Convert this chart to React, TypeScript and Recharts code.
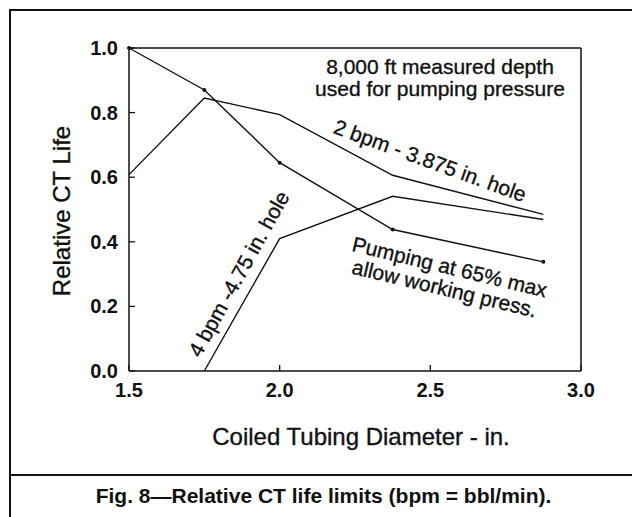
import React from 'react'
import { LineChart, Line, XAxis, YAxis, ReferenceLine } from 'recharts'

// coiled tubing diameters (in.) where the curves were computed
const diameters = [1.5, 1.75, 2.0, 2.375, 2.875]
const pumping65 = [1.0, 0.87, 0.645, 0.438, 0.338]
const bpm2Hole3875 = [0.608, 0.845, 0.794, 0.606, 0.485]
const bpm4Diameters = [1.75, 2.0, 2.375, 2.875]
const bpm4Hole475 = [0.0, 0.41, 0.541, 0.469]

const xTicks = [1.5, 2.0, 2.5, 3.0]
const yTicks = [0, 0.2, 0.4, 0.6, 0.8, 1.0]

const FONT = '"Liberation Sans", Arial, Helvetica, sans-serif'
const INK = '#111'

const pumpingData = diameters.map((d, i) => ({ d, v: pumping65[i] }))
const bpm2Data = diameters.map((d, i) => ({ d, v: bpm2Hole3875[i] }))
const bpm4Data = bpm4Diameters.map((d, i) => ({ d, v: bpm4Hole475[i] }))

const TICK_MARGIN = 11
const TICK_LEN = 6

function YTick(props: any) {
  const { x, y, payload } = props
  const ax = x + TICK_MARGIN
  return (
    <g>
      <line x1={ax} x2={ax + TICK_LEN} y1={y} y2={y} stroke={INK} strokeWidth={1.3} />
      <text x={x} y={y} dy={7} textAnchor="end" fontFamily={FONT} fontSize={20} fontWeight="bold" fill={INK}>
        {Number(payload.value).toFixed(1)}
      </text>
    </g>
  )
}

function XTick(props: any) {
  const { x, y, payload } = props
  const ay = y - TICK_MARGIN
  return (
    <g>
      <line x1={x} x2={x} y1={ay} y2={ay - TICK_LEN} stroke={INK} strokeWidth={1.3} />
      <text x={x} y={y} dy={15} textAnchor="middle" fontFamily={FONT} fontSize={20} fontWeight="bold" fill={INK}>
        {Number(payload.value).toFixed(1)}
      </text>
    </g>
  )
}

// free-floating label, centred on (x, y) and turned by angle
function Note({ x, y, angle, size = 21, children }: any) {
  return (
    <div
      style={{
        position: 'absolute',
        left: x,
        top: y,
        transform: `translate(-50%, -50%) rotate(${angle}deg)`,
        fontFamily: FONT,
        fontSize: size,
        lineHeight: '22px',
        color: INK,
        WebkitTextStroke: '0.35px #111',
        whiteSpace: 'pre',
        textAlign: 'center',
      }}
    >
      {children}
    </div>
  )
}

export default function App() {
  return (
    <div
      style={{
        position: 'fixed',
        left: 0,
        top: 0,
        width: 632,
        height: 517,
        overflow: 'hidden',
        background: '#fff',
      }}
    >
      {/* figure frame + caption divider */}
      <div
        style={{
          position: 'absolute',
          left: 9,
          top: 9,
          width: 700,
          height: 600,
          border: `2px solid ${INK}`,
        }}
      />
      <div style={{ position: 'absolute', left: 9, top: 474, width: 700, height: 2, background: INK }} />

      <div style={{ position: 'absolute', left: 0, top: 0 }}>
        <LineChart width={632} height={517} margin={{ top: 48, right: 51, left: 0, bottom: 0 }}>
          <XAxis
            dataKey="d"
            type="number"
            domain={[1.5, 3.0]}
            ticks={xTicks}
            interval={0}
            height={146}
            tickSize={0}
            tickMargin={TICK_MARGIN}
            tick={<XTick />}
            axisLine={{ stroke: INK, strokeWidth: 1.5 }}
            allowDuplicatedCategory={false}
          />
          <YAxis
            type="number"
            domain={[0, 1]}
            ticks={yTicks}
            interval={0}
            width={129}
            tickSize={0}
            tickMargin={TICK_MARGIN}
            tick={<YTick />}
            axisLine={{ stroke: INK, strokeWidth: 1.5 }}
          />
          <ReferenceLine y={1} stroke={INK} strokeWidth={1.5} />
          <ReferenceLine x={3} stroke={INK} strokeWidth={1.5} />
          <Line
            data={pumpingData}
            dataKey="v"
            stroke={INK}
            strokeWidth={1.4}
            dot={{ r: 2, fill: INK, stroke: INK, strokeWidth: 0 }}
            isAnimationActive={false}
          />
          <Line data={bpm2Data} dataKey="v" stroke={INK} strokeWidth={1.4} dot={false} isAnimationActive={false} />
          <Line data={bpm4Data} dataKey="v" stroke={INK} strokeWidth={1.4} dot={false} isAnimationActive={false} />
        </LineChart>
      </div>

      <Note x={440} y={78} angle={0}>{'8,000 ft measured depth\nused for pumping pressure'}</Note>
      <Note x={430} y={161} angle={20}>2 bpm - 3.875 in. hole</Note>
      <Note x={447} y={278} angle={13.5}>{'Pumping at 65% max\nallow working press.'}</Note>
      <Note x={239} y={274} angle={-61}>4 bpm -4.75 in. hole</Note>

      <Note x={62} y={211} angle={-90} size={24}>Relative CT Life</Note>
      <Note x={361} y={437} angle={0} size={24}>Coiled Tubing Diameter - in.</Note>

      <div
        style={{
          position: 'absolute',
          left: 0,
          top: 484,
          width: 647,
          textAlign: 'center',
          fontFamily: FONT,
          fontSize: 21,
          fontWeight: 'bold',
          color: INK,
          whiteSpace: 'pre',
        }}
      >
        Fig. 8—Relative CT life limits (bpm = bbl/min).
      </div>
    </div>
  )
}
